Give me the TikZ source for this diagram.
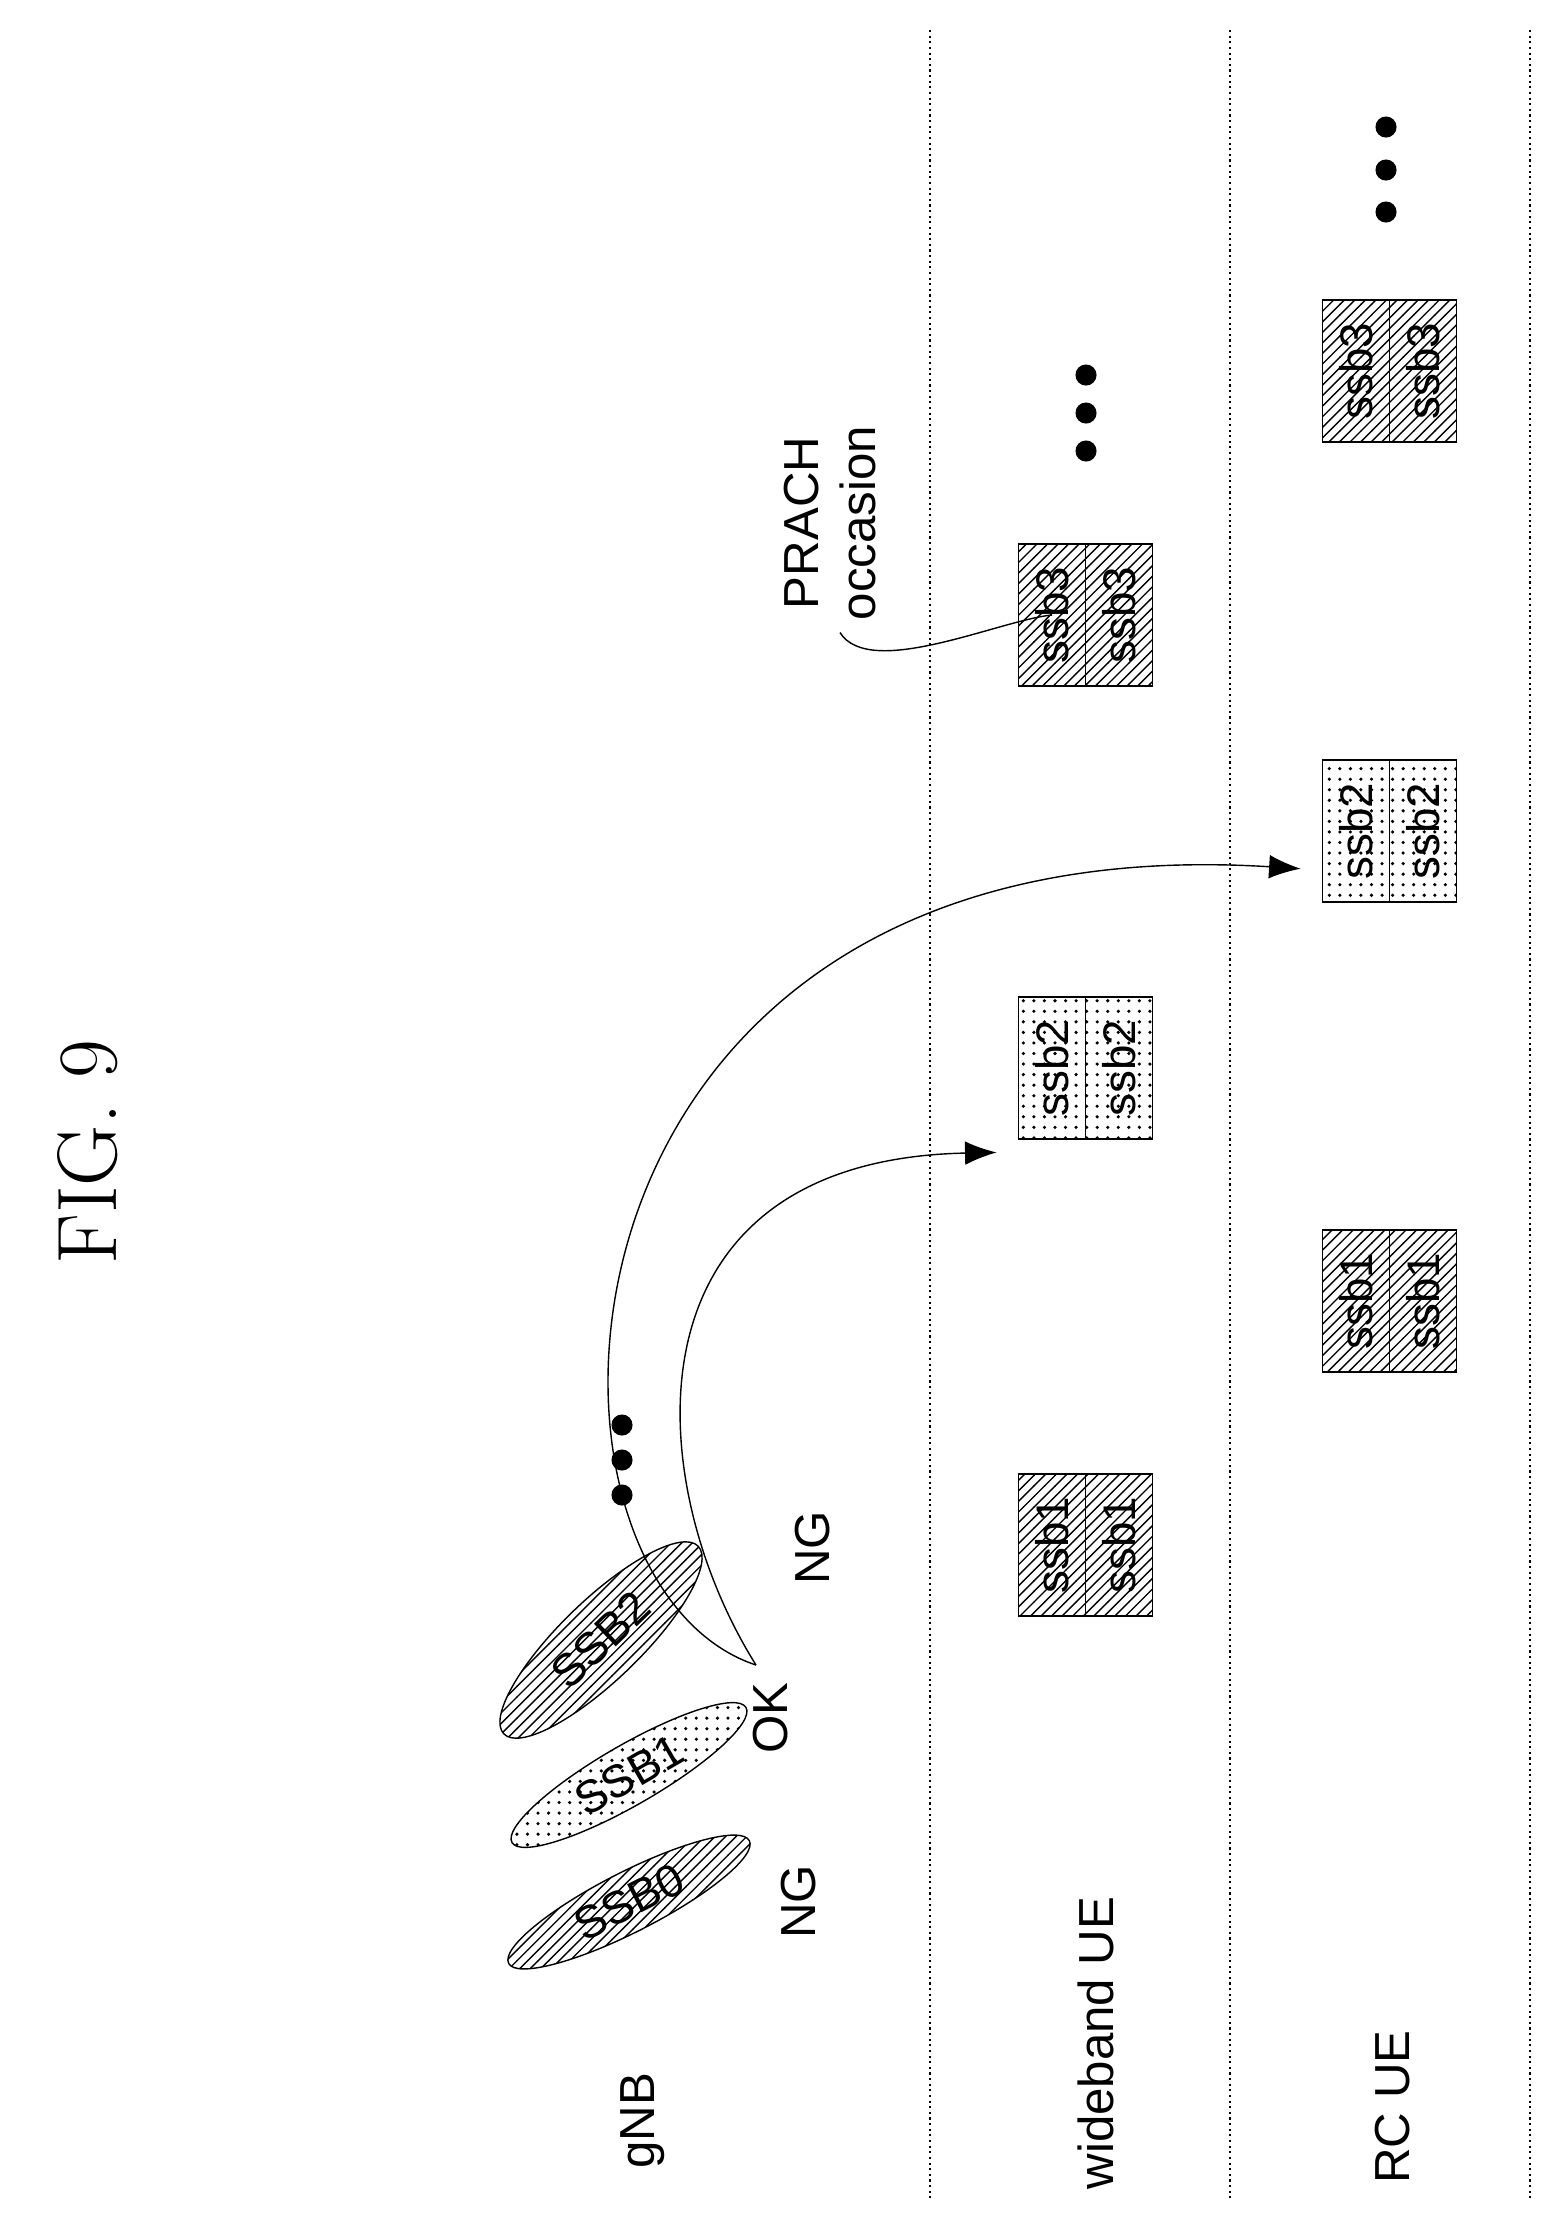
\documentclass[tikz,border=0pt]{standalone}
\usepackage{fontspec}
\setsansfont{Liberation Sans}
\usetikzlibrary{shapes.geometric,patterns,arrows.meta,calc}

\tikzset{
  half/.style={draw, minimum width=0.67cm, minimum height=1.42cm, inner sep=0pt, font=\sffamily\fontsize{13}{13}\selectfont},
  beam/.style={draw, ellipse, minimum width=2.7cm, minimum height=0.6cm, inner sep=0pt, font=\sffamily\fontsize{13}{13}\selectfont},
  lbl/.style={rotate=90, font=\sffamily\fontsize{14}{16}\selectfont},
  lane/.style={densely dotted, line width=0.6pt},
  bigdot/.style={circle, fill, inner sep=0pt, minimum size=6pt}
}

\begin{document}
\begin{tikzpicture}[x=0.01cm, y=-0.01cm]

\useasboundingbox (0,0) rectangle (1557,2214);

\node (fig) at (88,1152) [rotate=90, font=\fontsize{24}{24}\selectfont] {FIG. 9};

% lanes
\draw[lane] (930,30) -- (930,2200);
\draw[lane] (1230,30) -- (1230,2200);
\draw[lane] (1530,30) -- (1530,2200);

\node (gnb) at (643,2121) [lbl] {gNB};
\node (wide) at (1096,2043) [lbl] {wideband UE};
\node (rc) at (1393,2107) [lbl] {RC UE};

% beams
\node (ssb0) at (629,1902) [beam, rotate=27, pattern=north east lines] {SSB0};
\node (ssb1) at (629,1775) [beam, rotate=30, pattern=dots] {SSB1};
\node (ssb2) at (601,1640) [beam, rotate=44, minimum height=0.8cm, pattern=north east lines] {SSB2};

\node (ng1) at (799,1902) [lbl] {NG};
\node (ok) at (771,1718) [lbl] {OK};
\node (ng2) at (813,1548) [lbl] {NG};

\node (d1) at (622,1425) [bigdot] {};
\node (d2) at (622,1460) [bigdot] {};
\node (d3) at (622,1495) [bigdot] {};

% wideband UE occasions
\node (w1a) at (1052,1545) [half, pattern=north east lines] {\rotatebox{90}{ssb1}};
\node (w1b) at (1119,1545) [half, pattern=north east lines] {\rotatebox{90}{ssb1}};
\node (w2a) at (1052,1068) [half, pattern=dots] {\rotatebox{90}{ssb2}};
\node (w2b) at (1119,1068) [half, pattern=dots] {\rotatebox{90}{ssb2}};
\node (w3a) at (1052,615) [half, pattern=north east lines] {\rotatebox{90}{ssb3}};
\node (w3b) at (1119,615) [half, pattern=north east lines] {\rotatebox{90}{ssb3}};
\node (wd1) at (1086,375) [bigdot] {};
\node (wd2) at (1086,413) [bigdot] {};
\node (wd3) at (1086,451) [bigdot] {};

% RC UE occasions
\node (r1a) at (1356,1301) [half, pattern=north east lines] {\rotatebox{90}{ssb1}};
\node (r1b) at (1423,1301) [half, pattern=north east lines] {\rotatebox{90}{ssb1}};
\node (r2a) at (1356,831) [half, pattern=dots] {\rotatebox{90}{ssb2}};
\node (r2b) at (1423,831) [half, pattern=dots] {\rotatebox{90}{ssb2}};
\node (r3a) at (1356,371) [half, pattern=north east lines] {\rotatebox{90}{ssb3}};
\node (r3b) at (1423,371) [half, pattern=north east lines] {\rotatebox{90}{ssb3}};
\node (rd1) at (1386,127) [bigdot] {};
\node (rd2) at (1386,170) [bigdot] {};
\node (rd3) at (1386,212) [bigdot] {};

\node (prach) at (830,523) [lbl, align=center] {PRACH\\occasion};
\draw ($(prach.west)+(10,0)$) .. controls (870,680) and (1000,620) .. (w3a.center);

% mapping
\draw[-{Latex[length=9pt]}, shorten >=6pt] ($(ok.east)+(-15,-5)$) .. controls (640,1480) and (620,1160) .. ($(w2a.west)+(0,84)$);
\draw[-{Latex[length=9pt]}, shorten >=6pt] ($(ok.east)+(-15,-5)$) .. controls (500,1580) and (520,820) .. ($(r2a.west)+(0,39)$);

\end{tikzpicture}
\end{document}
